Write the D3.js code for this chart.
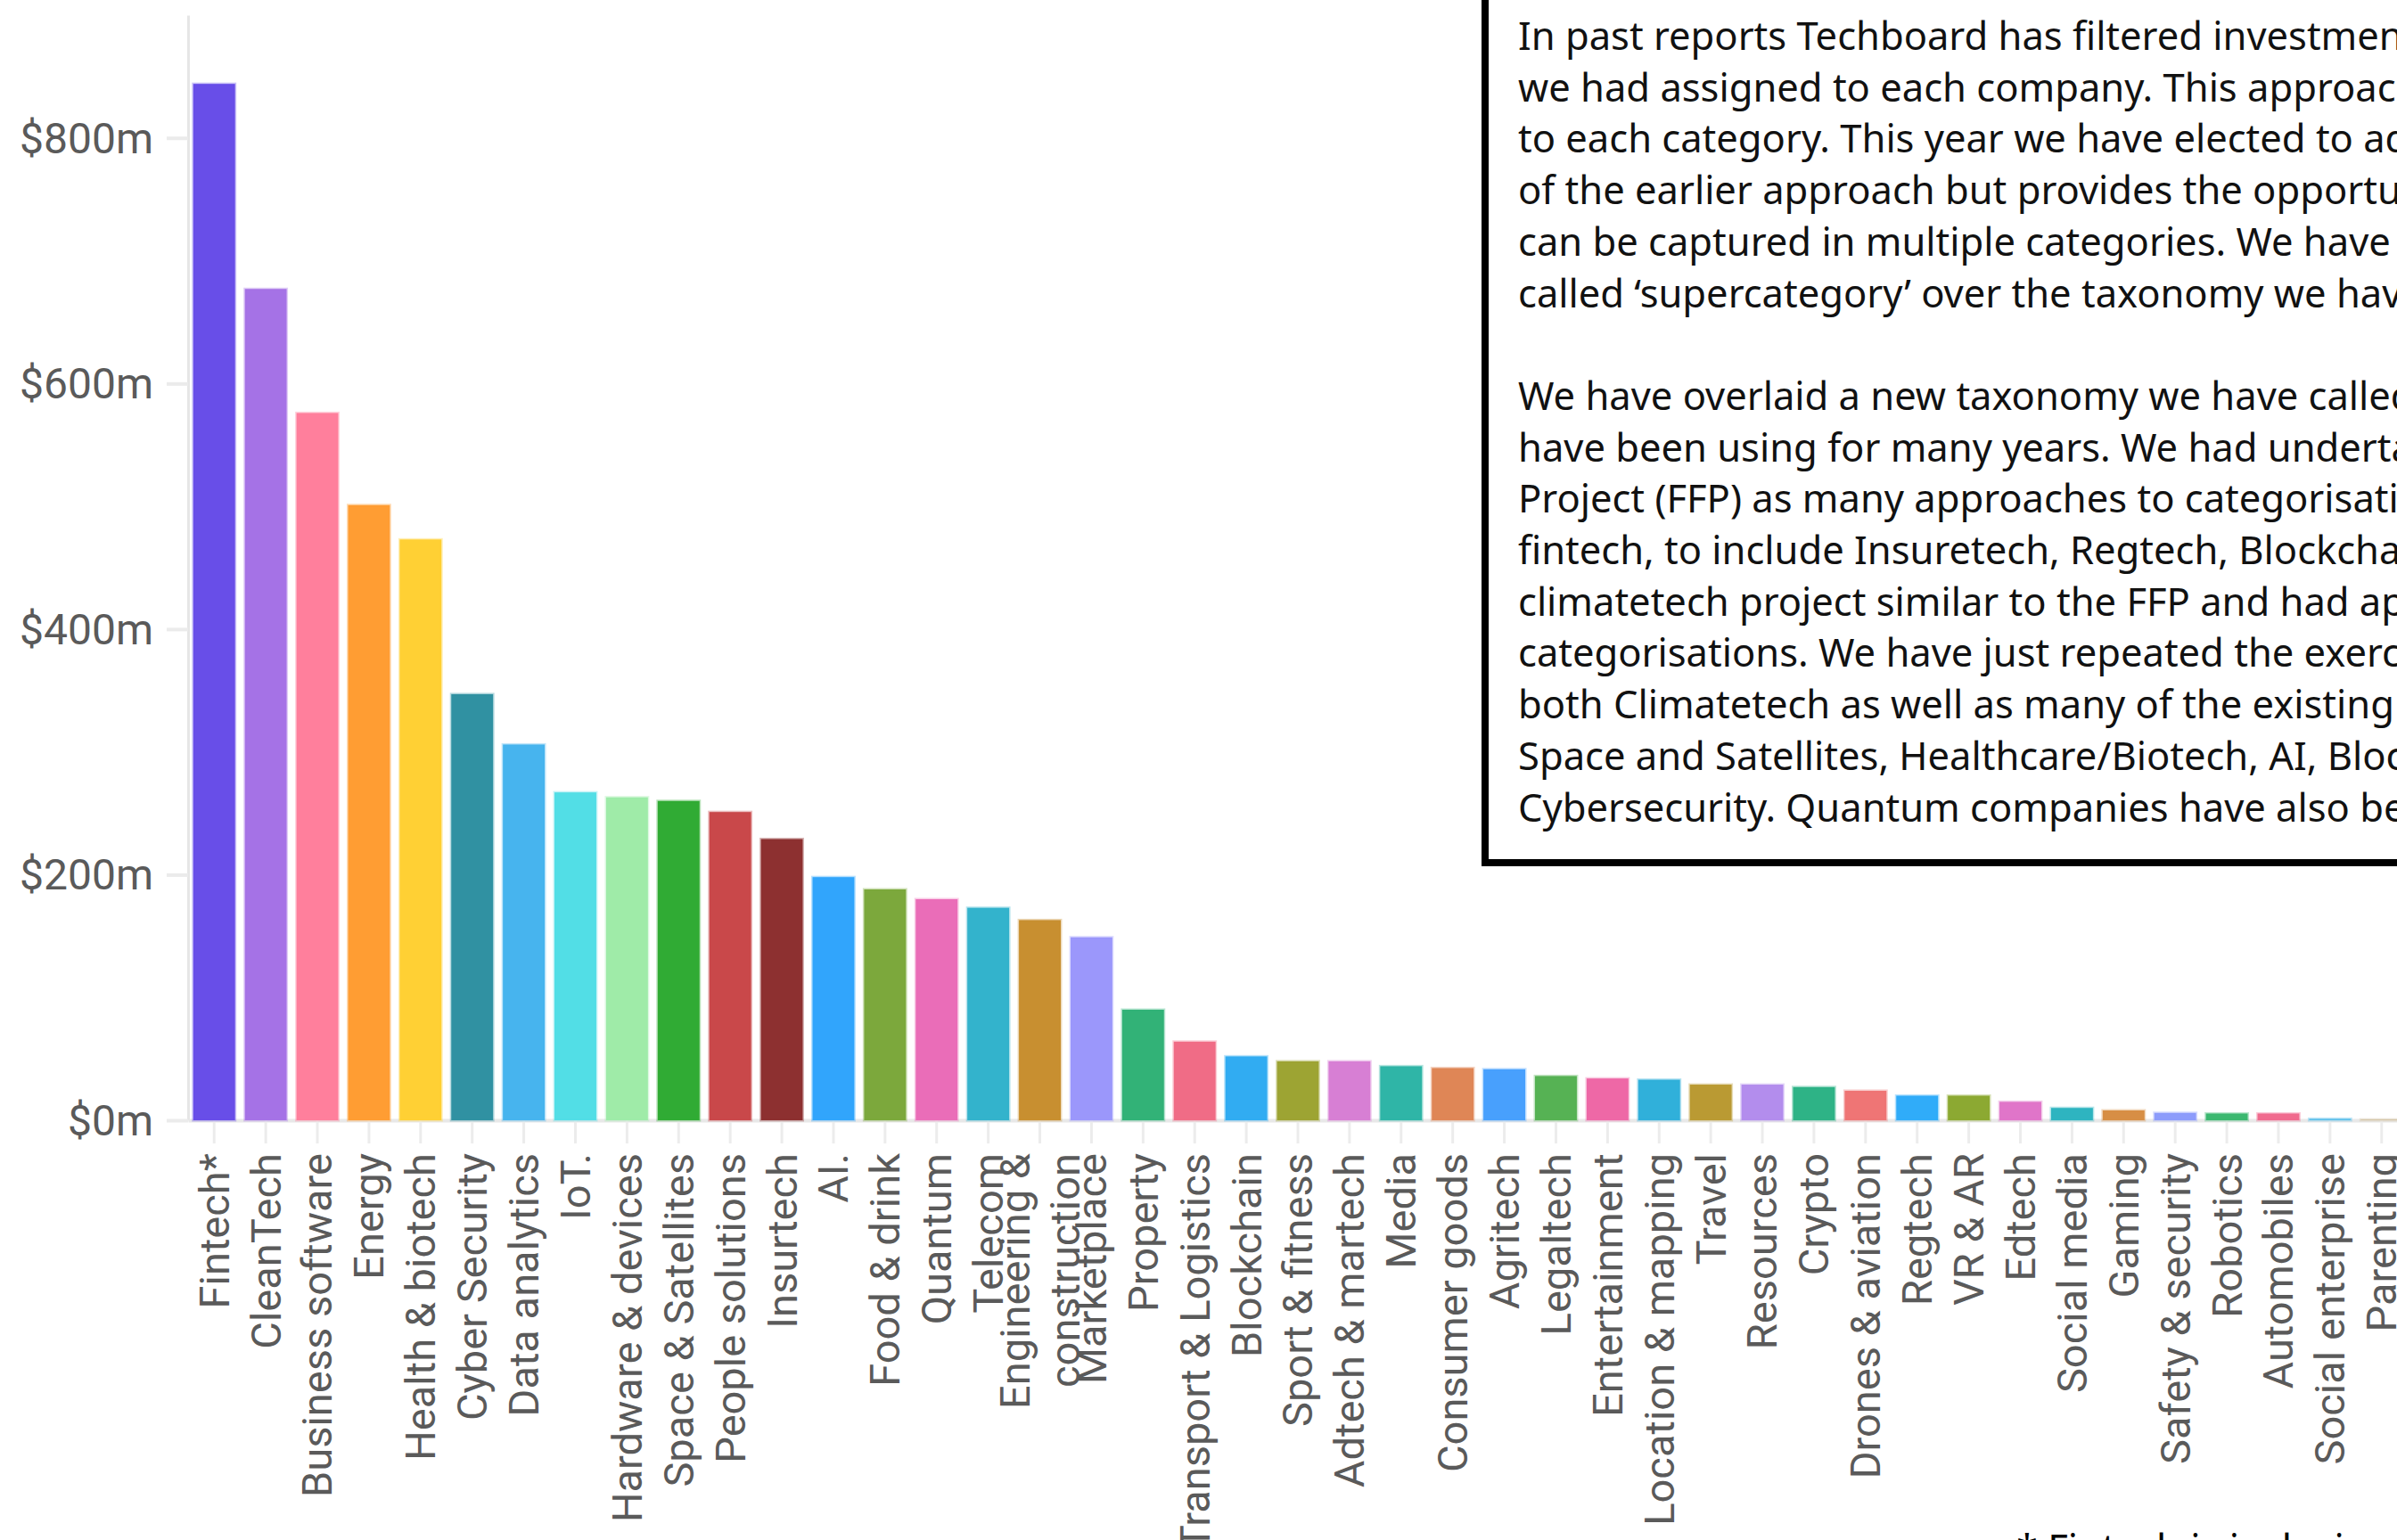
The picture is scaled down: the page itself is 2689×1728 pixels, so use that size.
<!DOCTYPE html>
<html>
<head>
<meta charset="utf-8">
<script src="https://cdn.jsdelivr.net/npm/d3@7"></script>
<style>
  html, body { margin: 0; padding: 0; background: #fff; }
  svg { display: block; }
</style>
</head>
<body>
<svg id="chart" width="2689" height="1728"></svg>
<script>
// Investment by category ($m), sorted high to low
const categories = [
  "Fintech*", "CleanTech", "Business software", "Energy", "Health & biotech",
  "Cyber Security", "Data analytics", "IoT.", "Hardware & devices", "Space & Satellites",
  "People solutions", "Insurtech", "AI.", "Food & drink", "Quantum", "Telecom",
  "Engineering & construction", "Marketplace", "Property", "Transport & Logistics",
  "Blockchain", "Sport & fitness", "Adtech & martech", "Media", "Consumer goods",
  "Agritech", "Legaltech", "Entertainment", "Location & mapping", "Travel",
  "Resources", "Crypto", "Drones & aviation", "Regtech", "VR & AR", "Edtech",
  "Social media", "Gaming", "Safety & security", "Robotics", "Automobiles",
  "Social enterprise", "Parenting"
];
const values = [
  844, 677, 576, 501, 473,
  347, 306, 267, 263, 260,
  251, 229, 198, 188, 180, 173,
  163, 149, 90, 64,
  52, 48, 48, 44, 42.5,
  41.5, 36, 34, 33, 29,
  29, 27, 24, 20, 20, 15,
  10, 8, 6, 5.5, 5.5,
  1.2, 0.6
];
const barColors = [
  "#684ee8", "#a572e6", "#ff7f9c", "#ff9d33", "#ffd034",
  "#3091a2", "#47b4ee", "#52dee6", "#9feba8", "#30ab34",
  "#c9484a", "#8d3030", "#31a5fc", "#7ca83c", "#ea6db8", "#33b3cc",
  "#c88f30", "#9b97fb", "#32b277", "#f06c86",
  "#31acf2", "#9da433", "#d77fd4", "#2fb5a7", "#df8656",
  "#48a0fd", "#56b254", "#ee68a6", "#30b0da", "#ba9a33",
  "#b38ded", "#2eb386", "#ef7575", "#30acf9", "#8ca932", "#e075c9",
  "#2eb4c0", "#d78e45", "#8d9cfb", "#3cb870", "#f06b8e",
  "#5bc0eb", "#d4c4a0"
];
const yTicks = [0, 200, 400, 600, 800];

const noteLines = [
  "In past reports Techboard has filtered investment",
  "we had assigned to each company. This approach",
  "to each category. This year we have elected to adopt",
  "of the earlier approach but provides the opportunity",
  "can be captured in multiple categories. We have",
  "called \u2018supercategory\u2019 over the taxonomy we have",
  "",
  "We have overlaid a new taxonomy we have called",
  "have been using for many years. We had undertaken",
  "Project (FFP) as many approaches to categorisation",
  "fintech, to include Insuretech, Regtech, Blockchain",
  "climatetech project similar to the FFP and had applied",
  "categorisations. We have just repeated the exercise",
  "both Climatetech as well as many of the existing",
  "Space and Satellites, Healthcare/Biotech, AI, Blockchain",
  "Cybersecurity. Quantum companies have also been"
];
const footnote = "* Fintech is inclusive of Insurtech, Regtech and Crypto";

const data = categories.map((c, i) => ({ name: c, value: values[i], color: barColors[i] }));

const svg = d3.select("#chart");
const plot = { left: 211, right: 2701, top: 17, bottom: 1257 };

const x = d3.scaleBand()
  .domain(categories)
  .range([plot.left, plot.right])
  .paddingInner(0.19)
  .paddingOuter(0.1);

const y = d3.scaleLinear()
  .domain([0, 900])
  .range([plot.bottom, plot.top]);

const labelFont = "Roboto, 'Liberation Sans', Arial, sans-serif";
const axisGrey = "#e6e6e6";
const textGrey = "#5a5a5a";

// Y axis
const yAxis = svg.append("g")
  .attr("transform", `translate(${plot.left},0)`)
  .call(d3.axisLeft(y).tickValues(yTicks).tickSize(24).tickSizeOuter(0).tickPadding(15)
    .tickFormat(d => `$${d}m`));
yAxis.select(".domain").attr("stroke", axisGrey).attr("stroke-width", 3);
yAxis.selectAll(".tick line").attr("stroke", "#ebebeb").attr("stroke-width", 4);
yAxis.selectAll(".tick text")
  .attr("fill", textGrey)
  .attr("font-family", labelFont)
  .attr("font-weight", 400)
  .attr("font-size", 48)
  .attr("dy", "0.34em");

// X axis
const xAxis = svg.append("g")
  .attr("transform", `translate(0,${plot.bottom})`)
  .call(d3.axisBottom(x).tickSize(26).tickSizeOuter(0).tickPadding(0));
xAxis.select(".domain").attr("stroke", "#e8e8e8").attr("stroke-width", 4);
xAxis.selectAll(".tick line").attr("stroke", "#ececec").attr("stroke-width", 3);

// rotated category labels, wrapping the long ones
const maxChars = 24;
function wrapWords(s) {
  if (s.length <= maxChars) return [s];
  const words = s.split(" ");
  const lines = [];
  let cur = "";
  words.forEach(w => {
    const t = cur ? cur + " " + w : w;
    if (t.length > 14 && cur) { lines.push(cur); cur = w; } else cur = t;
  });
  if (cur) lines.push(cur);
  return lines;
}
xAxis.selectAll(".tick text").remove();
xAxis.selectAll(".tick").each(function(d) {
  const lines = wrapWords(d);
  const t = d3.select(this).append("text")
    .attr("transform", "translate(0,37) rotate(-90)")
    .attr("text-anchor", "end")
    .attr("fill", textGrey)
    .attr("font-family", labelFont)
    .attr("font-weight", 400)
    .attr("font-size", 47);
  const n = lines.length;
  lines.forEach((ln, i) => {
    t.append("tspan")
      .attr("x", 0)
      .attr("y", 0)
      .attr("dy", `${0.35 + (i - (n - 1) / 2) * 1.2}em`)
      .text(ln);
  });
});

// Bars
svg.append("g")
  .selectAll("rect")
  .data(data)
  .join("rect")
  .attr("x", d => x(d.name))
  .attr("y", d => y(d.value))
  .attr("width", x.bandwidth())
  .attr("height", d => y(0) - y(d.value))
  .attr("fill", d => d.color)
  .attr("stroke", d => d.color)
  .attr("stroke-opacity", 0.35)
  .attr("stroke-width", 3);

// Explanatory note box
const note = svg.append("g");
note.append("rect")
  .attr("x", 1666)
  .attr("y", -20)
  .attr("width", 1100)
  .attr("height", 988)
  .attr("fill", "#fff")
  .attr("stroke", "#000")
  .attr("stroke-width", 8);
note.append("text")
  .attr("font-family", "'Noto Sans', 'Open Sans', sans-serif")
  .attr("font-size", 43.5)
  .attr("fill", "#111")
  .selectAll("tspan")
  .data(noteLines)
  .join("tspan")
  .attr("x", 1703)
  .attr("y", (d, i) => 56 + i * 57.7)
  .text(d => d);

// Footnote
svg.append("text")
  .attr("x", 2262)
  .attr("y", 1753)
  .attr("font-family", "'Noto Sans', 'Open Sans', sans-serif")
  .attr("font-size", 43.5)
  .attr("fill", "#000")
  .text(footnote);
</script>
</body>
</html>
